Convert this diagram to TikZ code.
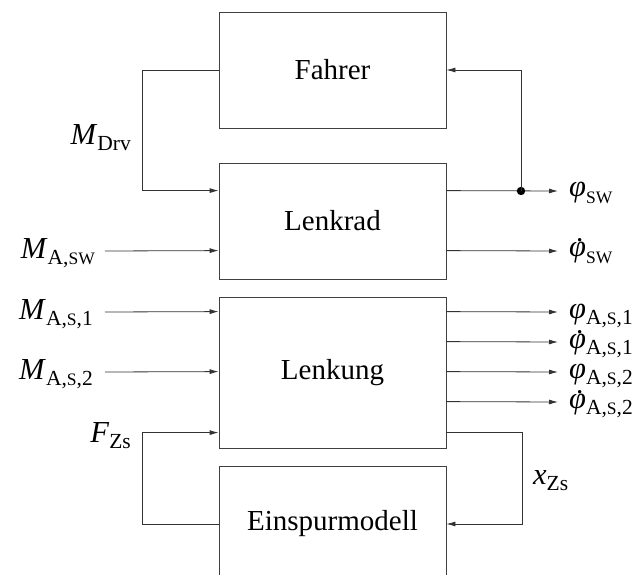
\documentclass[tikz,border=0pt]{standalone}
\usepackage{fontspec}
\setmainfont{Liberation Serif}
\usetikzlibrary{arrows.meta,calc}
% lowered subscript and reduced capitals inside it
\newcommand{\subtxt}[1]{\raisebox{-6pt}{\fontsize{21.5}{21.5}\selectfont #1}}
\newcommand{\scap}[1]{{\fontsize{17.5}{17.5}\selectfont #1}}
\newcommand{\var}[1]{{\fontsize{30.5}{34}\selectfont\textit{#1}}}
\newcommand{\sym}[2]{\var{#1}\subtxt{#2}}
% phi with a dot above
\newcommand{\dphi}{{\setbox0\hbox{\var{φ}}\rlap{\hbox to\wd0{\hss\kern4pt\raisebox{15pt}{.}\hss}}\box0}}

\begin{document}
\begin{tikzpicture}[x=1pt,y=-1pt,
  font=\fontsize{29}{34}\selectfont,
  block/.style={draw=black!75, line width=0.8pt, minimum width=227pt, inner sep=0pt},
  wire/.style={draw=black!80, line width=0.8pt},
  arr/.style={wire, -{Latex[length=9pt,width=5pt]}},
  lbl/.style={inner sep=0pt}]
\useasboundingbox (0,0) rectangle (638,575);

% blocks
\node[block, minimum height=116pt] (fahrer)  at (332.5,70)    {Fahrer};
\node[block, minimum height=116pt] (lenkrad) at (332.5,221)   {Lenkrad};
\node[block, minimum height=151pt] (lenkung) at (332.5,372.5) {Lenkung};
\node[block, minimum height=116pt] (esm)     at (332.5,524)   {Einspurmodell};

% ports
\coordinate (lrA) at ([yshift=-28pt]lenkrad.north west);
\coordinate (lrB) at ([yshift=-88pt]lenkrad.north west);
\coordinate (lrC) at ([yshift=-28pt]lenkrad.north east);
\coordinate (lrD) at ([yshift=-88pt]lenkrad.north east);
\coordinate (lgA) at ([yshift=-15pt]lenkung.north west);
\coordinate (lgB) at ([yshift=-75pt]lenkung.north west);
\coordinate (lgC) at ([yshift=-136pt]lenkung.north west);
\coordinate (lg1) at ([yshift=-15pt]lenkung.north east);
\coordinate (lg2) at ([yshift=-45pt]lenkung.north east);
\coordinate (lg3) at ([yshift=-75pt]lenkung.north east);
\coordinate (lg4) at ([yshift=-105pt]lenkung.north east);
\coordinate (lg5) at ([yshift=-136pt]lenkung.north east);

% branch point
\coordinate (br) at (521,191);

% inputs
\node[lbl, anchor=east] (mdrv) at (131,138) {\sym{M}{Drv}};
\draw[arr] (fahrer.west) -- ++(-76,0) |- (lrA);

\node[lbl, anchor=east] (masw) at (95,253) {\sym{M}{A,\scap{SW}}};
\coordinate (inB) at (105,251);
\draw[arr] (inB) -- (lrB);

\node[lbl, anchor=east] (mas1) at (93,314) {\sym{M}{A,\scap{S},1}};
\coordinate (in1) at (105,312);
\draw[arr] (in1) -- (lgA);

\node[lbl, anchor=east] (mas2) at (93,374) {\sym{M}{A,\scap{S},2}};
\coordinate (in2) at (105,372);
\draw[arr] (in2) -- (lgB);

\node[lbl, anchor=east] (fzs) at (131,436) {\sym{F}{Zs}};
\draw[arr] (esm.west) -- ++(-76,0) |- (lgC);

% outputs
\coordinate (oC) at (558,191);
\coordinate (oD) at (558,251);
\coordinate (o1) at (558,312);
\coordinate (o2) at (558,342);
\coordinate (o3) at (558,372);
\coordinate (o4) at (558,402);
\draw[arr] (lrC) -- (oC);
\draw[arr] (lrD) -- (oD);
\draw[arr] (lg1) -- (o1);
\draw[arr] (lg2) -- (o2);
\draw[arr] (lg3) -- (o3);
\draw[arr] (lg4) -- (o4);
\fill[black] (br) circle (4.2);
\draw[arr] (br) |- (fahrer.east);
\draw[arr] (lg5) -- ++(76,0) |- (esm.east);

\node[lbl, anchor=base west] (phisw)  at (569,197) {\sym{φ}{\scap{SW}}};
\node[lbl, anchor=base west] (dphisw) at (569,257) {\dphi\subtxt{\scap{SW}}};
\node[lbl, anchor=base west] (p1) at (569,318) {\sym{φ}{A,\scap{S},1}};
\node[lbl, anchor=base west] (p2) at (569,348) {\dphi\subtxt{A,\scap{S},1}};
\node[lbl, anchor=base west] (p3) at (569,378) {\sym{φ}{A,\scap{S},2}};
\node[lbl, anchor=base west] (p4) at (569,408) {\dphi\subtxt{A,\scap{S},2}};
\node[lbl, anchor=west] (xzs) at (533,481) {\sym{x}{Zs}};
\end{tikzpicture}
\end{document}
